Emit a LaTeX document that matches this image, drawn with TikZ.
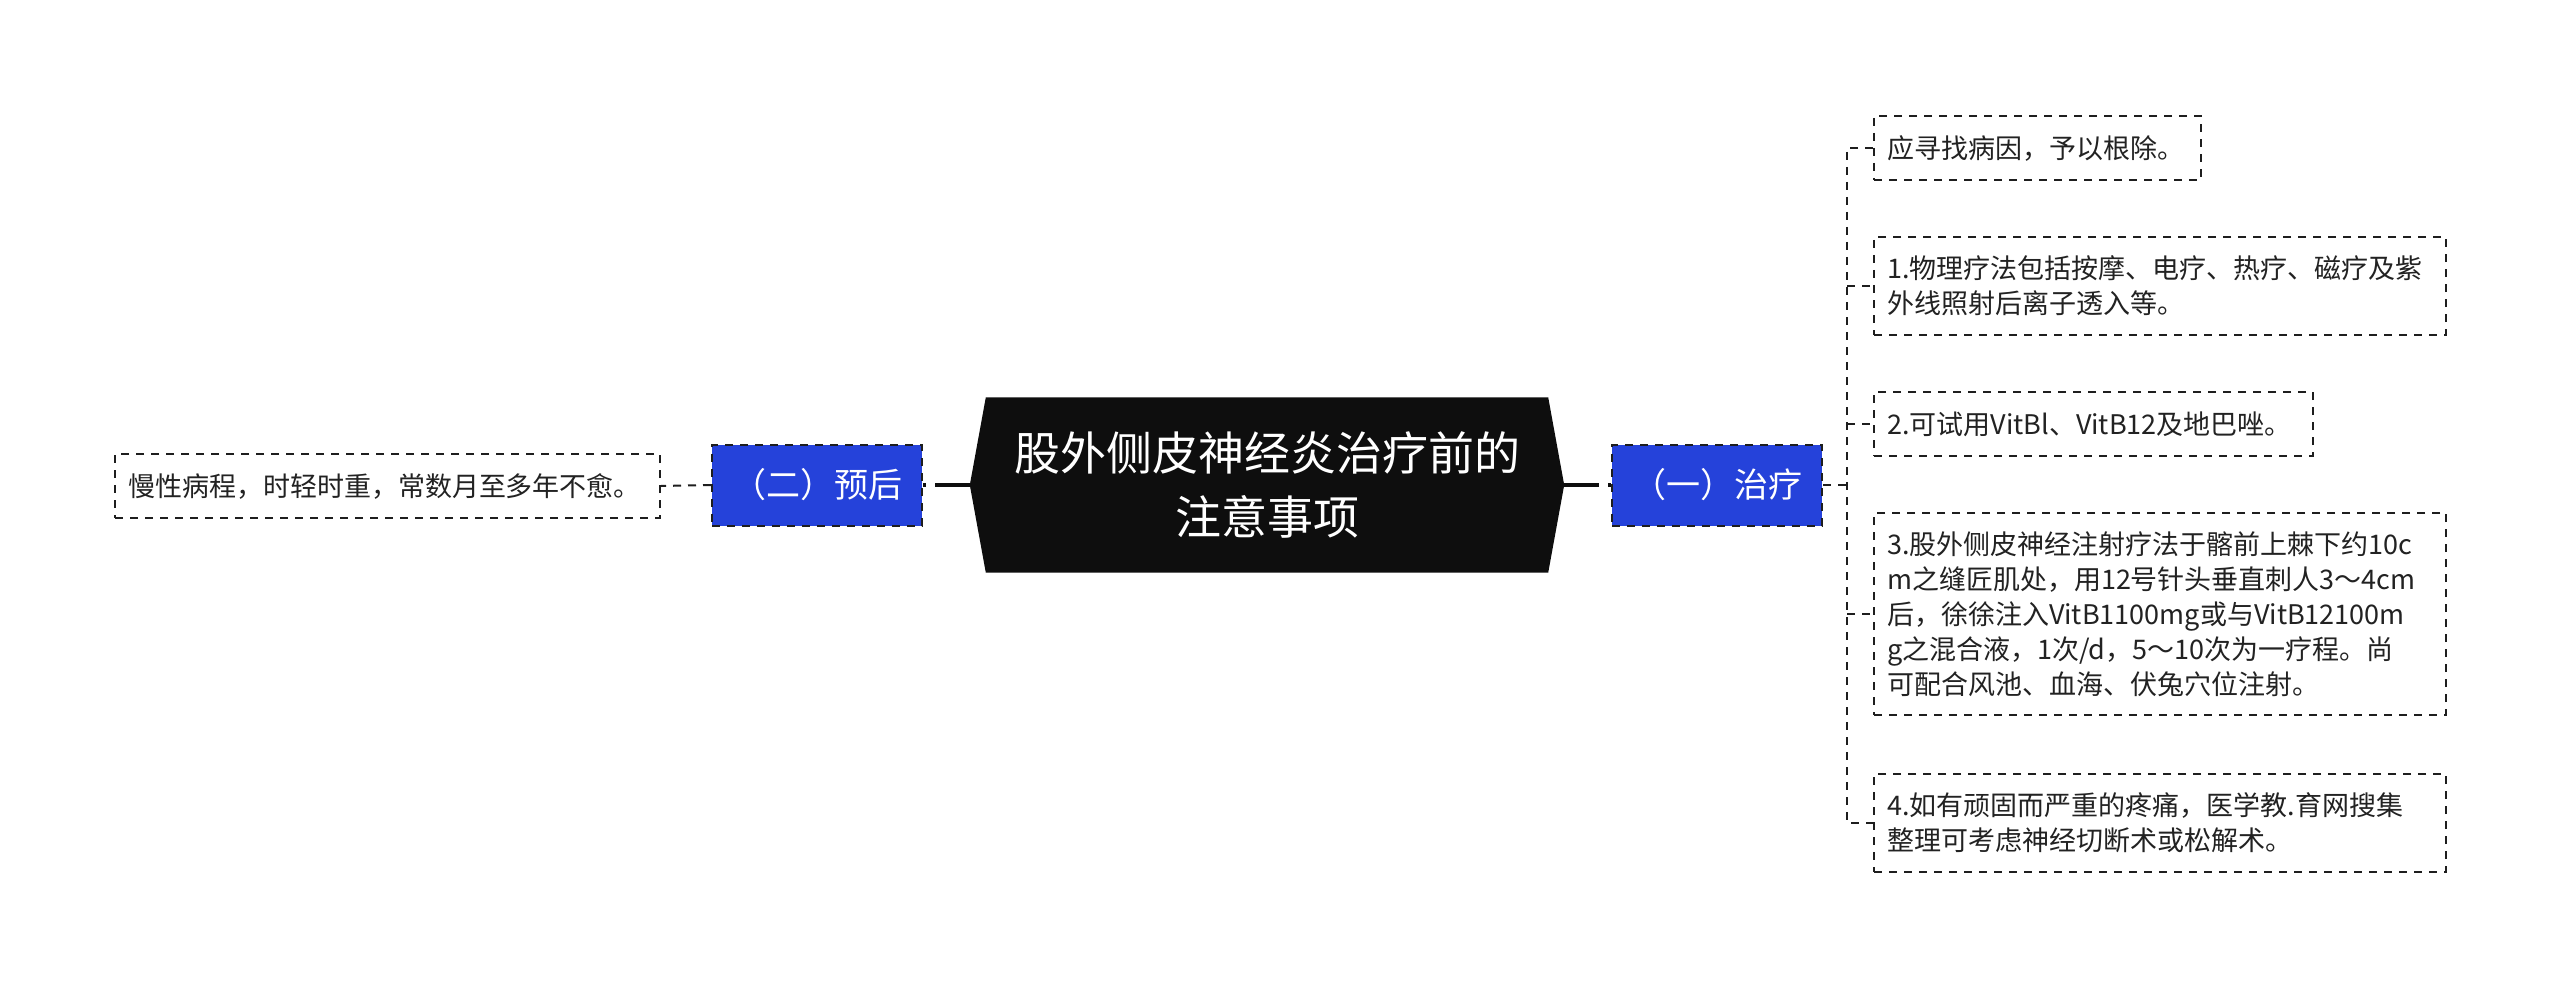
\documentclass[tikz,border=0pt]{standalone}
\usepackage{fontspec}
\setmainfont{Noto Sans CJK SC}
\usetikzlibrary{backgrounds}
\definecolor{hexfill}{HTML}{0E0E0E}
\definecolor{bluefill}{HTML}{2542DA}
\definecolor{txt}{HTML}{222222}
\definecolor{edge}{HTML}{1E1E1E}
\begin{document}
\begin{tikzpicture}[x=1pt,y=-1pt,
  leaf/.style={draw=edge, line width=2pt, dash pattern=on 8pt off 7pt, fill=white, text=txt,
    font=\fontsize{27pt}{35pt}\selectfont, align=left, inner xsep=13pt, inner ysep=0pt, anchor=west},
  sub/.style={draw=edge, line width=2pt, dash pattern=on 8pt off 7pt, fill=bluefill, text=white,
    font=\fontsize{34pt}{40pt}\selectfont, minimum width=210pt, minimum height=81pt, inner sep=0pt},
  thinlink/.style={draw=edge, line width=2pt, dash pattern=on 8pt off 7pt},
  thicklink/.style={draw=hexfill, line width=3.5pt, dash pattern=on 35pt off 9pt}]
\useasboundingbox (0,0) rectangle (2560,987);
\node (root) [minimum width=594pt, minimum height=175pt, inner sep=0pt, text=white, align=center,
  font=\fontsize{46pt}{64pt}\selectfont] at (1267,485) {股外侧皮神经炎治疗前的\\注意事项};
\begin{scope}[on background layer]
\fill[hexfill] (root.west) -- ([xshift=16pt]root.north west) -- ([xshift=-16pt]root.north east)
  -- (root.east) -- ([xshift=-16pt]root.south east) -- ([xshift=16pt]root.south west) -- cycle;
\end{scope}
\node[sub] (zl) at (1717,485) {（一）治疗};
\node[sub] (yh) at (817,485) {（二）预后};
\node[leaf, anchor=east, text width=519pt, minimum height=64pt] (l0) at (661,486) {慢性病程，时轻时重，常数月至多年不愈。};
\node[leaf, text width=301pt, minimum height=64pt] (l1) at (1873,148) {应寻找病因，予以根除。};
\node[leaf, text width=546pt, minimum height=98pt] (l2) at (1873,286) {1.物理疗法包括按摩、电疗、热疗、磁疗及紫\\外线照射后离子透入等。};
\node[leaf, text width=413pt, minimum height=64pt] (l3) at (1873,424) {2.可试用VitBl、VitB12及地巴唑。};
\node[leaf, text width=546pt, minimum height=202pt] (l4) at (1873,614) {3.股外侧皮神经注射疗法于髂前上棘下约10c\\m之缝匠肌处，用12号针头垂直刺人3～4cm\\后，徐徐注入VitB1100mg或与VitB12100m\\g之混合液，1次/d，5～10次为一疗程。尚\\可配合风池、血海、伏兔穴位注射。};
\node[leaf, text width=546pt, minimum height=98pt] (l5) at (1873,823) {4.如有顽固而严重的疼痛，医学教.育网搜集\\整理可考虑神经切断术或松解术。};
\coordinate (tr) at (1847,485);
\draw[thicklink] (root.east) -- (zl.west);
\draw[thicklink] (root.west) -- (yh.east);
\draw[thinlink] (yh.west) -- (l0.east);
\draw[thinlink] (zl.east) -- (tr);
\draw[thinlink] (l1.west) -| (tr |- l5.west) -- (l5.west);
\draw[thinlink] (tr |- l2.west) -- (l2.west);
\draw[thinlink] (tr |- l3.west) -- (l3.west);
\draw[thinlink] (tr |- l4.west) -- (l4.west);
\end{tikzpicture}
\end{document}
